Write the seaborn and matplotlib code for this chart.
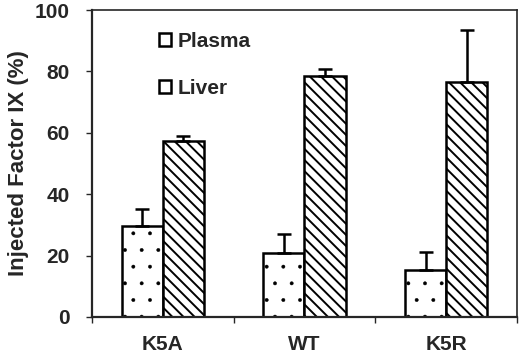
import numpy as np
import pandas as pd
import matplotlib
matplotlib.use('Agg')
import matplotlib.pyplot as plt
import seaborn as sns
from matplotlib.patches import Patch

# Values
groups = ['K5A', 'WT', 'K5R']
tissues = ['Plasma', 'Liver']
plasma = [29.5, 20.8, 15.2]
liver = [57.5, 78.6, 76.5]
plasma_err = [5.6, 6.1, 6.0]
liver_err = [1.6, 2.3, 17.0]

df = pd.DataFrame({
    'group': groups * 2,
    'tissue': ['Plasma'] * 3 + ['Liver'] * 3,
    'value': plasma + liver,
    'err': plasma_err + liver_err,
})

sns.set_style('ticks')
plt.rcParams['font.family'] = ['Liberation Sans', 'DejaVu Sans']
plt.rcParams['font.weight'] = 'bold'
plt.rcParams['hatch.linewidth'] = 1.4
plt.rcParams['hatch.color'] = 'black'

fig = plt.figure(figsize=(5.2, 3.59), dpi=100)
ax = fig.add_axes([0.177, 0.117, 0.817, 0.855])

sns.barplot(data=df, x='group', y='value', hue='tissue', order=groups,
            hue_order=tissues, width=0.58, errorbar=None,
            palette=['white', 'white'], edgecolor='black', linewidth=1.8,
            legend=False, ax=ax)

hatches = {'Plasma': '.', 'Liver': '\\\\\\'}
for cont, t in zip(ax.containers, tissues):
    sub = df[df['tissue'] == t].set_index('group').loc[groups]
    xs = []
    for bar in cont:
        bar.set_hatch(hatches[t])
        if t == 'Plasma' and hasattr(bar, 'set_hatch_linewidth'):
            bar.set_hatch_linewidth(0.3)
        xs.append(bar.get_x() + bar.get_width() / 2)
    ax.errorbar(xs, sub['value'], yerr=[np.zeros(3), sub['err']], fmt='none',
                ecolor='black', elinewidth=1.8, capsize=5, capthick=1.8, zorder=1)

ax.set_xlim(-0.5, 2.5)
ax.set_ylim(0, 100)
ax.set_yticks([0, 20, 40, 60, 80, 100])
ax.set_xticks([-0.5, 0.5, 1.5, 2.5])
ax.set_xticklabels([])
ax.set_xticks([0, 1, 2], minor=True)
ax.set_xticklabels(groups, minor=True, fontsize=15, fontweight='bold')
ax.tick_params(axis='x', which='minor', length=0, pad=13)
ax.tick_params(axis='x', which='major', length=4, width=1, direction='out')
ax.tick_params(axis='y', length=4, width=1, labelsize=15, pad=12)
for lab in ax.get_yticklabels():
    lab.set_fontweight('bold')
ax.set_xlabel('')
ax.set_ylabel('Injected Factor IX (%)', fontsize=16, fontweight='bold', labelpad=4)

for s in ax.spines.values():
    s.set_visible(True)
    s.set_linewidth(1.2)
ax.spines['bottom'].set_linewidth(1.6)
ax.spines['left'].set_linewidth(1.6)

handles = [Patch(facecolor='white', edgecolor='black', hatch='', linewidth=1.8),
           Patch(facecolor='white', edgecolor='black', hatch='\\', linewidth=1.8)]
ax.legend(handles, tissues, loc='upper left', bbox_to_anchor=(0.113, 0.99),
          frameon=False, handlelength=0.6, handleheight=0.6, handletextpad=0.3,
          labelspacing=1.35, prop={'size': 15, 'weight': 'bold'})

fig.savefig('out.png', dpi=100)
